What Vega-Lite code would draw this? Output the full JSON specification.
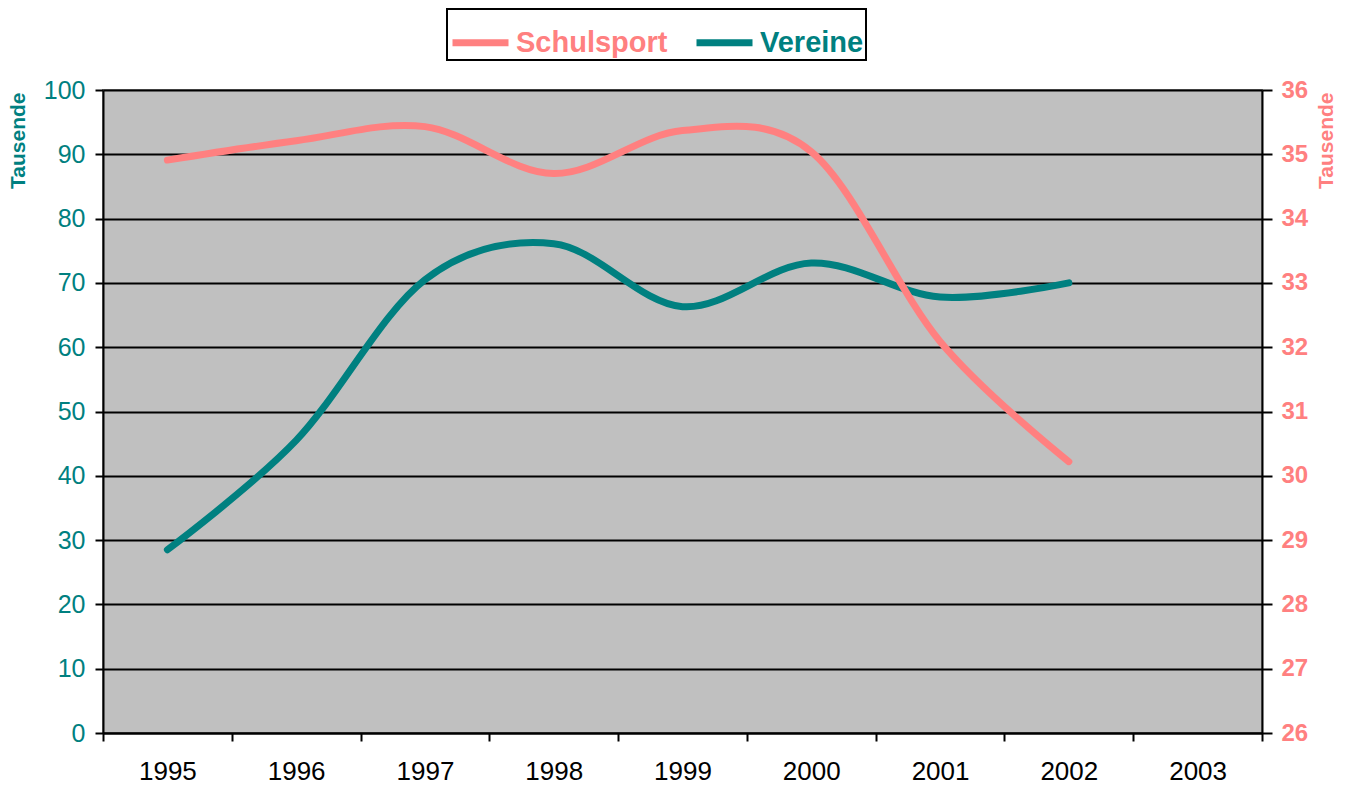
{
  "$schema": "https://vega.github.io/schema/vega-lite/v6.json",
  "width": 1159,
  "height": 643,
  "autosize": {"type": "none"},
  "padding": {"left": 103, "top": 90, "right": 86, "bottom": 52},
  "background": "white",
  "config": {
    "font": "Liberation Sans",
    "view": {"fill": "#C0C0C0", "stroke": "#808080", "strokeWidth": 2},
    "legend": {"strokeWidth": 2}
  },
  "data": {
    "values": [
      {"year": 1995, "series": "Vereine", "value": 28.5},
      {"year": 1996, "series": "Vereine", "value": 45.5},
      {"year": 1997, "series": "Vereine", "value": 70.5},
      {"year": 1998, "series": "Vereine", "value": 76.1},
      {"year": 1999, "series": "Vereine", "value": 66.3},
      {"year": 2000, "series": "Vereine", "value": 73.1},
      {"year": 2001, "series": "Vereine", "value": 67.8},
      {"year": 2002, "series": "Vereine", "value": 70.0},
      {"year": 1995, "series": "Schulsport", "value": 34.91},
      {"year": 1996, "series": "Schulsport", "value": 35.21},
      {"year": 1997, "series": "Schulsport", "value": 35.43},
      {"year": 1998, "series": "Schulsport", "value": 34.70},
      {"year": 1999, "series": "Schulsport", "value": 35.37},
      {"year": 2000, "series": "Schulsport", "value": 35.04},
      {"year": 2001, "series": "Schulsport", "value": 32.09},
      {"year": 2002, "series": "Schulsport", "value": 30.22}
    ]
  },
  "encoding": {
    "x": {
      "field": "year",
      "type": "ordinal",
      "scale": {
        "type": "band",
        "domain": [1995, 1996, 1997, 1998, 1999, 2000, 2001, 2002, 2003],
        "paddingInner": 0,
        "paddingOuter": 0
      },
      "axis": {
        "title": null,
        "labelAngle": 0,
        "labelFontSize": 26,
        "labelColor": "black",
        "labelPadding": 17,
        "tickBand": "extent",
        "tickSize": 8,
        "tickColor": "black",
        "tickWidth": 2,
        "domainColor": "black",
        "domainWidth": 2,
        "grid": false
      }
    },
    "color": {
      "field": "series",
      "type": "nominal",
      "scale": {"domain": ["Schulsport", "Vereine"], "range": ["#FF8080", "#008080"]},
      "legend": {
        "orient": "none",
        "legendX": 344,
        "legendY": -81,
        "direction": "horizontal",
        "title": null,
        "symbolType": "stroke",
        "symbolSize": 3136,
        "symbolStrokeWidth": 7,
        "labelFontSize": 29,
        "labelFontWeight": "bold",
        "labelColor": {"expr": "datum.label === 'Schulsport' ? '#FF8080' : '#008080'"},
        "labelOffset": 4,
        "columnPadding": 14,
        "padding": 2,
        "strokeColor": "black",
        "fillColor": "white"
      }
    }
  },
  "layer": [
    {
      "transform": [{"filter": "datum.series === 'Vereine'"}],
      "mark": {"type": "line", "interpolate": "cardinal", "strokeWidth": 7, "strokeCap": "round"},
      "encoding": {
        "y": {
          "field": "value",
          "type": "quantitative",
          "scale": {"domain": [0, 100], "nice": false, "zero": false},
          "axis": {
            "orient": "left",
            "values": [0, 10, 20, 30, 40, 50, 60, 70, 80, 90, 100],
            "labelFontSize": 25,
            "labelColor": "#008080",
            "labelPadding": 10,
            "tickSize": 8,
            "tickColor": "black",
            "tickWidth": 2,
            "domainColor": "black",
            "domainWidth": 2,
            "grid": true,
            "gridColor": "black",
            "gridWidth": 2,
            "title": "Tausende",
            "titleColor": "#008080",
            "titleFontSize": 21,
            "titleFontWeight": "bold",
            "titleAngle": -90,
            "titleX": -85,
            "titleY": 2,
            "titleAlign": "right",
            "titleBaseline": "middle"
          }
        }
      }
    },
    {
      "transform": [{"filter": "datum.series === 'Schulsport'"}],
      "mark": {"type": "line", "interpolate": "cardinal", "strokeWidth": 7, "strokeCap": "round"},
      "encoding": {
        "y": {
          "field": "value",
          "type": "quantitative",
          "scale": {"domain": [26, 36], "nice": false, "zero": false},
          "axis": {
            "orient": "right",
            "values": [26, 27, 28, 29, 30, 31, 32, 33, 34, 35, 36],
            "labelFontSize": 24,
            "labelFontWeight": "bold",
            "labelColor": "#FF8080",
            "labelPadding": 9,
            "tickSize": 10,
            "tickColor": "black",
            "tickWidth": 2,
            "domainColor": "black",
            "domainWidth": 2,
            "grid": false,
            "title": "Tausende",
            "titleColor": "#FF8080",
            "titleFontSize": 21,
            "titleFontWeight": "bold",
            "titleAngle": -90,
            "titleX": 64,
            "titleY": 2,
            "titleAlign": "right",
            "titleBaseline": "middle"
          }
        }
      }
    }
  ],
  "resolve": {"scale": {"y": "independent"}, "axis": {"y": "independent"}}
}
